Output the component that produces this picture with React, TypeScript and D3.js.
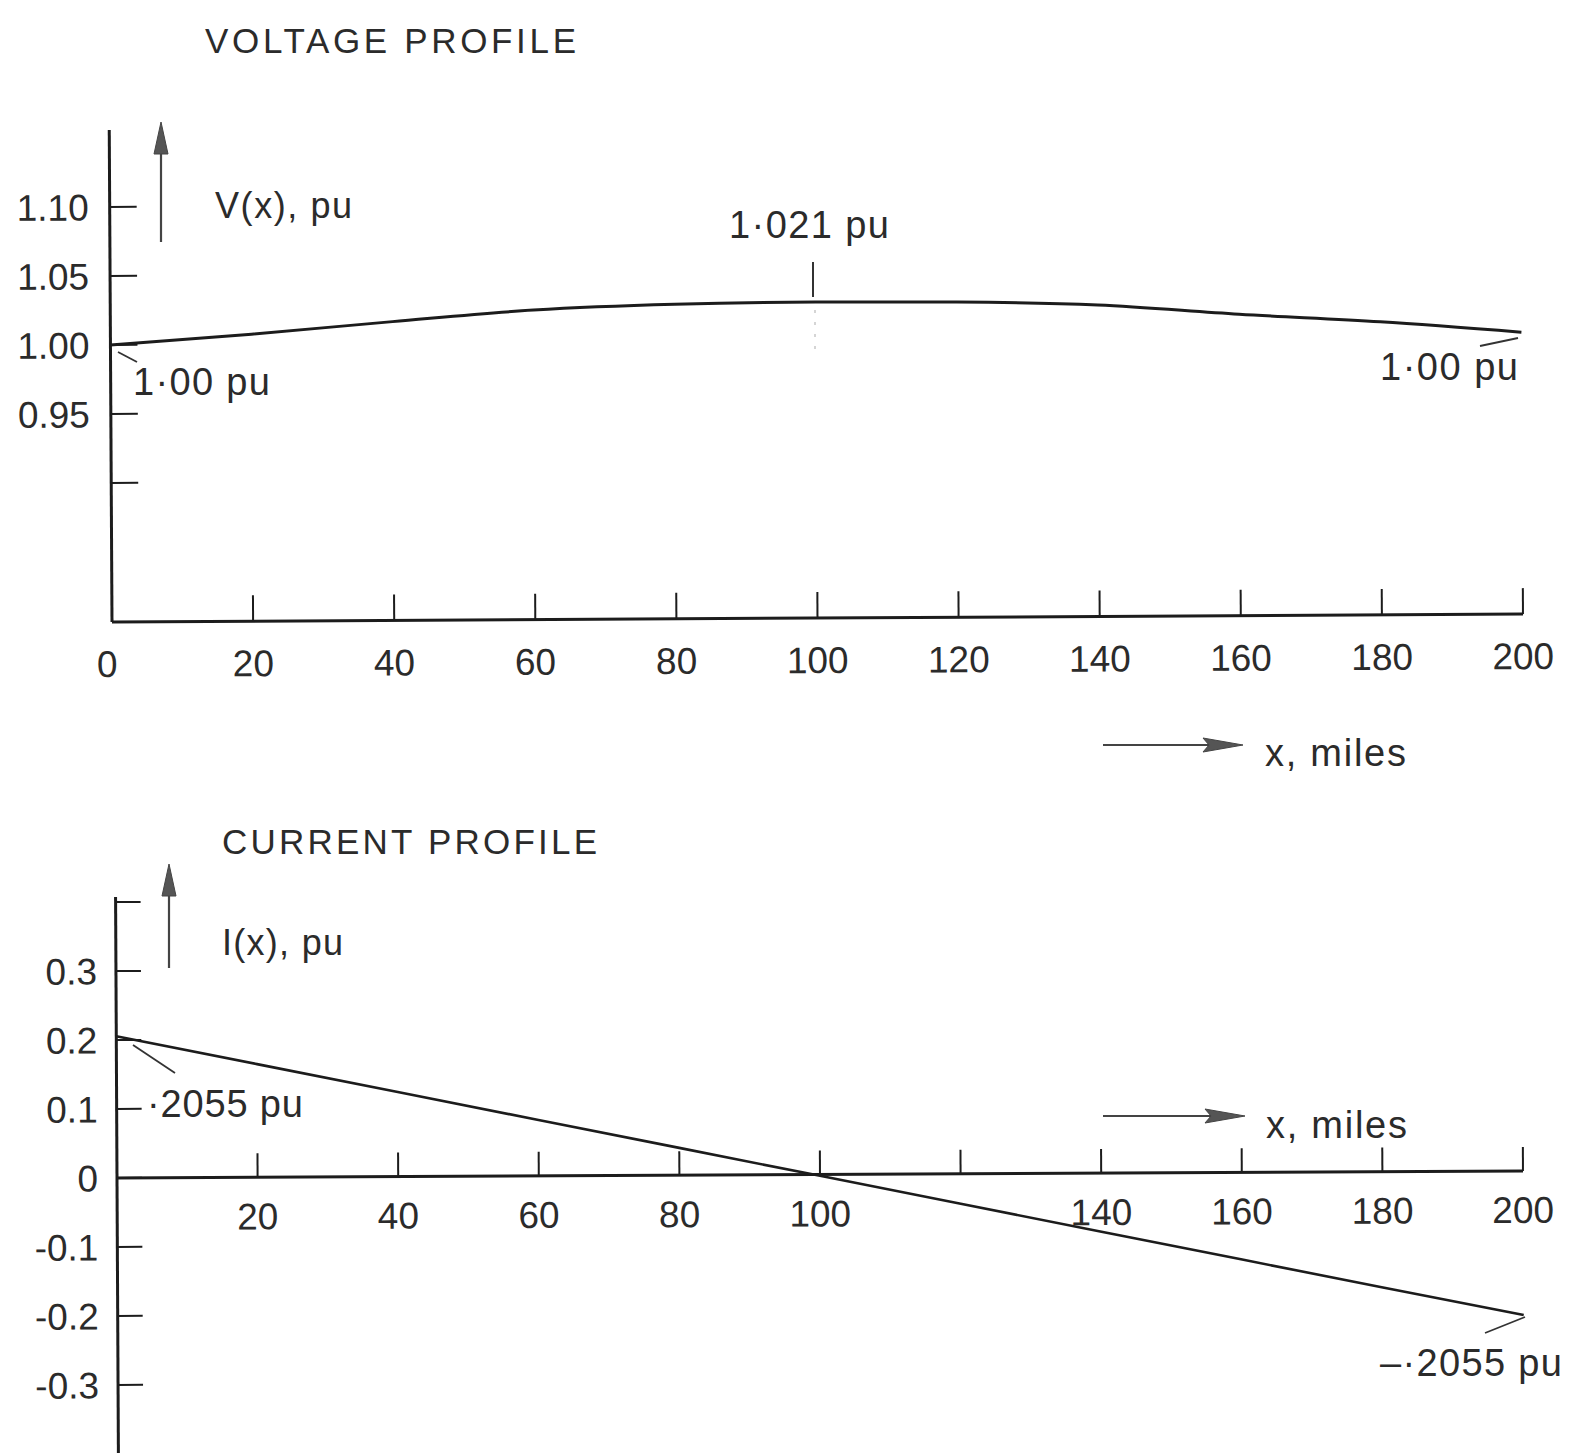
import React from 'react';
import * as d3 from 'd3';

// ---------- data ----------
const miles = [0, 20, 40, 60, 80, 100, 120, 140, 160, 180, 200];
const topXLabels = ['0', '20', '40', '60', '80', '100', '120', '140', '160', '180', '200'];
const bottomXLabels = ['', '20', '40', '60', '80', '100', '', '140', '160', '180', '200'];

const voltageValues = [1.0, 1.0073, 1.0158, 1.0236, 1.0272, 1.0283, 1.0277, 1.025, 1.0177, 1.0117, 1.0036];
const voltageTicks = [0.9, 0.95, 1.0, 1.05, 1.1];
const voltageTickLabels = ['', '0.95', '1.00', '1.05', '1.10'];

const currentValues = [0.2055, 0.164, 0.1225, 0.081, 0.0395, -0.002, -0.0435, -0.085, -0.1265, -0.168, -0.209];
const currentTicks = [0.4, 0.3, 0.2, 0.1, 0, -0.1, -0.2, -0.3];
const currentTickLabels = ['', '0.3', '0.2', '0.1', '0', '-0.1', '-0.2', '-0.3'];

// ---------- style ----------
const FONT = '"Liberation Sans", Arial, Helvetica, sans-serif';
const TEXT = '#2b2b2b';
const INK = '#1c1c1c';
const W = 1575;
const H = 1453;

const xTop = d3.scaleLinear().domain([0, 200]).range([0, 1411]);
const yTop = d3.scaleLinear().domain([0.9, 1.1]).range([-139, -415]);
const xBot = d3.scaleLinear().domain([0, 200]).range([0, 1406]);
const yBot = d3.scaleLinear().domain([-0.3, 0.4]).range([207, -276]);

const voltageLine = d3
  .line<number>()
  .x((_, i) => xTop(miles[i]))
  .y((v) => yTop(v))
  .curve(d3.curveMonotoneX);

const currentLine = d3
  .line<number>()
  .x((_, i) => xBot(miles[i]))
  .y((v) => yBot(v));

function Label({ x, y, text, size = 37, len, anchor = 'start', ls = 0 }: any) {
  return (
    <text
      x={x}
      y={y}
      fontSize={size}
      fill={TEXT}
      textAnchor={anchor}
      fontFamily={FONT}
      letterSpacing={ls}
      {...(len ? { textLength: len, lengthAdjust: 'spacing' } : {})}
    >
      {text}
    </text>
  );
}

function ArrowRight({ x1, x2, y }: any) {
  return (
    <g>
      <line x1={x1} x2={x2 - 30} y1={y} y2={y} stroke="#444" strokeWidth={2} />
      <polygon points={`${x2},${y} ${x2 - 40},${y - 7} ${x2 - 34},${y} ${x2 - 40},${y + 7}`} fill="#555" stroke="#444" strokeWidth={1} />
    </g>
  );
}

function ArrowUp({ x, y1, y2 }: any) {
  return (
    <g>
      <line x1={x} x2={x} y1={y1} y2={y2 + 25} stroke="#444" strokeWidth={2.2} />
      <polygon points={`${x},${y2} ${x - 7},${y2 + 32} ${x + 7},${y2 + 32}`} fill="#555" stroke="#444" strokeWidth={1} />
    </g>
  );
}

export default function App() {
  return (
    <svg
      width={W}
      height={H}
      viewBox={`0 0 ${W} ${H}`}
      style={{ position: 'absolute', left: 0, top: 0, display: 'block', background: '#fff' }}
    >
      <rect x={0} y={0} width={W} height={H} fill="#fff" />

      {/* ===== VOLTAGE PROFILE ===== */}
      <Label x={205} y={53} text="VOLTAGE PROFILE" size={35} len={371} />
      <g transform="translate(112,622) rotate(-0.32)">
        <line x1={0} x2={0} y1={0} y2={-492} stroke={INK} strokeWidth={3} />
        {voltageTicks.map((t, i) => (
          <g key={t}>
            <line x1={0} x2={27} y1={yTop(t)} y2={yTop(t)} stroke={INK} strokeWidth={2} />
            <text x={-21} y={yTop(t)} dy="0.36em" textAnchor="end" fontSize={37} fill={TEXT} fontFamily={FONT}>
              {voltageTickLabels[i]}
            </text>
          </g>
        ))}
        <line x1={0} x2={xTop(200)} y1={0} y2={0} stroke={INK} strokeWidth={3} />
        {miles.map((m, i) => (
          <g key={m}>
            {m > 0 && <line x1={xTop(m)} x2={xTop(m)} y1={0} y2={-26} stroke={INK} strokeWidth={2} />}
            <text x={xTop(m) - (m === 0 ? 5 : 0)} y={55} textAnchor="middle" fontSize={37} fill={TEXT} fontFamily={FONT}>
              {topXLabels[i]}
            </text>
          </g>
        ))}
        <path d={voltageLine(voltageValues) || ''} fill="none" stroke={INK} strokeWidth={3} />
      </g>
      <ArrowUp x={161} y1={242} y2={122} />
      <Label x={215} y={218} text="V(x), pu" size={36} len={137} />
      <Label x={729} y={238} text="1·021 pu" size={38} len={160} />
      <line x1={813} x2={813} y1={262} y2={297} stroke="#333" strokeWidth={2} />
      <line x1={815} x2={815} y1={310} y2={356} stroke="#c8c8c8" strokeWidth={1.5} strokeDasharray="3 9" />
      <line x1={118} x2={137} y1={352} y2={362} stroke="#333" strokeWidth={1.8} />
      <Label x={133} y={395} text="1·00 pu" size={38} len={137} />
      <line x1={1480} x2={1518} y1={346} y2={338} stroke="#333" strokeWidth={1.8} />
      <Label x={1380} y={380} text="1·00 pu" size={38} len={138} />
      <ArrowRight x1={1103} x2={1243} y={745} />
      <Label x={1265} y={766} text="x, miles" size={38} len={141} />

      {/* ===== CURRENT PROFILE ===== */}
      <Label x={222} y={854} text="CURRENT PROFILE" size={35} len={375} />
      <g transform="translate(117,1178) rotate(-0.29)">
        <line x1={0} x2={0} y1={-281} y2={290} stroke={INK} strokeWidth={3} />
        {currentTicks.map((t, i) => (
          <g key={t}>
            <line x1={0} x2={25} y1={yBot(t)} y2={yBot(t)} stroke={INK} strokeWidth={2} />
            <text x={-19} y={yBot(t)} dy="0.36em" textAnchor="end" fontSize={37} fill={TEXT} fontFamily={FONT}>
              {currentTickLabels[i]}
            </text>
          </g>
        ))}
        <line x1={0} x2={xBot(200)} y1={0} y2={0} stroke={INK} strokeWidth={3} />
        {miles.map((m, i) => (
          <g key={m}>
            {m > 0 && <line x1={xBot(m)} x2={xBot(m)} y1={0} y2={-24} stroke={INK} strokeWidth={2} />}
            <text x={xBot(m)} y={52} textAnchor="middle" fontSize={37} fill={TEXT} fontFamily={FONT}>
              {bottomXLabels[i]}
            </text>
          </g>
        ))}
        <path d={currentLine(currentValues) || ''} fill="none" stroke={INK} strokeWidth={2.6} />
      </g>
      <ArrowUp x={169} y1={968} y2={864} />
      <Label x={222} y={955} text="I(x), pu" size={36} len={121} />
      <line x1={133} x2={175} y1={1045} y2={1073} stroke="#333" strokeWidth={1.8} />
      <Label x={147} y={1117} text="·2055 pu" size={38} len={156} />
      <ArrowRight x1={1103} x2={1245} y={1116} />
      <Label x={1266} y={1138} text="x, miles" size={38} len={141} />
      <line x1={1485} x2={1525} y1={1333} y2={1317} stroke="#333" strokeWidth={1.8} />
      <Label x={1380} y={1376} text="–·2055 pu" size={38} len={182} />
    </svg>
  );
}
